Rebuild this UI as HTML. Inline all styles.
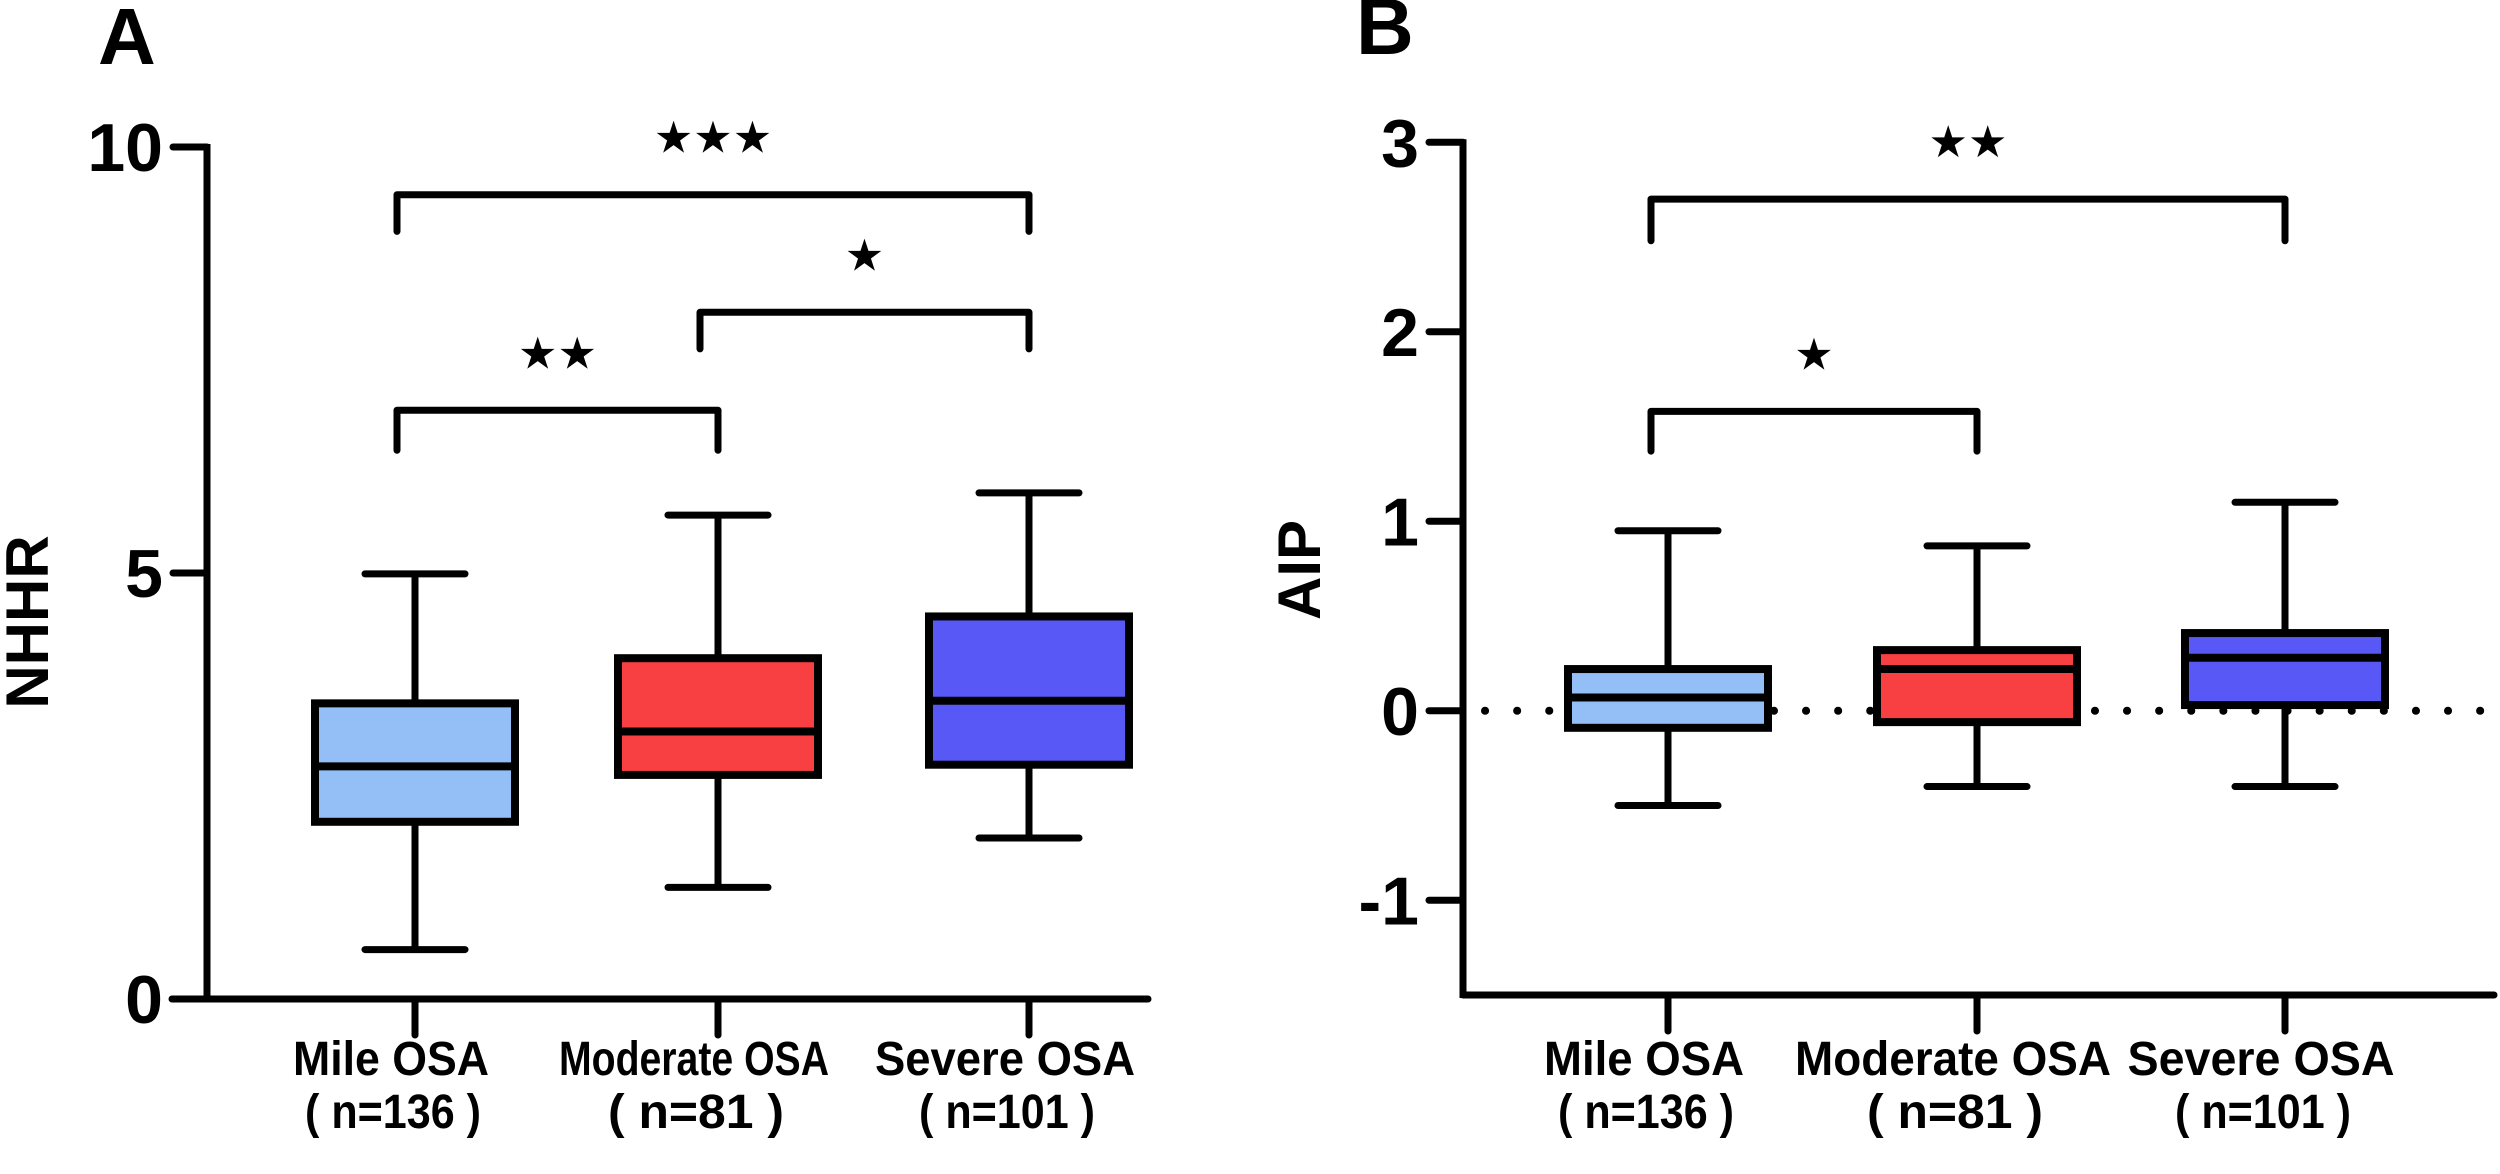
<!DOCTYPE html>
<html><head><meta charset="utf-8"><style>
html,body{margin:0;padding:0;background:#fff;}
svg{display:block;font-family:"Liberation Sans",Arial,sans-serif;font-weight:bold;}
</style></head><body>
<svg id="fig" width="2500" height="1174" viewBox="0 0 2500 1174" xmlns="http://www.w3.org/2000/svg"></svg>
<script>
const categories = ["Mile OSA","Moderate OSA","Severe OSA"];
const nLabels = ["( n=136 )","( n=81 )","( n=101 )"];
const colors = ["#94bff6","#f83f42","#5858f6"];
// Panel A (NHHR)
const nhhrMin = [0.58, 1.31, 1.89];
const nhhrQ1 = [2.08, 2.63, 2.75];
const nhhrMed = [2.73, 3.14, 3.50];
const nhhrQ3 = [3.47, 4.00, 4.49];
const nhhrMax = [4.99, 5.68, 5.94];
const nhhrTicks = [0, 5, 10];
// Panel B (AIP)
const aipMin = [-0.50, -0.40, -0.40];
const aipQ1 = [-0.09, -0.06, 0.03];
const aipMed = [0.07, 0.22, 0.28];
const aipQ3 = [0.22, 0.32, 0.41];
const aipMax = [0.95, 0.87, 1.10];
const aipTicks = [-1, 0, 1, 2, 3];
// significance brackets: [from, to, level, drop, stars]
const nhhrBrackets = [[0,2,9.44,9.01,"***"],[1,2,8.06,7.63,"*"],[0,1,6.91,6.44,"**"]];
const aipBrackets = [[0,2,2.7,2.48,"**"],[0,1,1.58,1.37,"*"]];

const NS="http://www.w3.org/2000/svg";
const svg=document.getElementById('fig');
function el(tag,attrs,parent){const e=document.createElementNS(NS,tag);for(const k in attrs)e.setAttribute(k,attrs[k]);(parent||svg).appendChild(e);return e;}
const SW=7;

function panel(cfg){
  const g=el('g',{});
  
  
  const y=v=>cfg.y0-(v-cfg.vmin)*cfg.ppu;
  const x=i=>cfg.xs[i];
  const L=el('text',{x:cfg.letterX,y:cfg.letterY,'font-size':80},g);L.textContent=cfg.letter;
  
  
  const ya=el('line',{x1:cfg.axX,y1:y(cfg.vmax)-3,x2:cfg.axX,y2:cfg.y0+3,stroke:'#000','stroke-width':SW},g);
  
  
  cfg.ticks.forEach(t=>{
    el('line',{x1:cfg.axX-34,y1:y(t),x2:cfg.axX,y2:y(t),stroke:'#000','stroke-width':SW,'stroke-linecap':'round'},g);
    const tl=el('text',{x:cfg.axX-44,y:y(t)+24,'font-size':68,'text-anchor':'end'},g);
    tl.textContent=t;
    
    
  });
  const yt=el('text',{x:0,y:0,'font-size':60,'text-anchor':'middle',transform:`translate(${cfg.titleX},${cfg.titleY}) rotate(-90)`},g);
  yt.textContent=cfg.title;
  
  
  const xa=el('line',{x1:cfg.xaStart,y1:cfg.y0,x2:cfg.xaEnd,y2:cfg.y0,stroke:'#000','stroke-width':SW,'stroke-linecap':'round'},g);
  
  
  if(cfg.zero){
    const zl=el('line',{x1:cfg.axX+22,y1:y(0),x2:2494,y2:y(0),stroke:'#000','stroke-width':8,'stroke-dasharray':'0.1 32','stroke-linecap':'round'},g);
    
    
  }
  categories.forEach((c,i)=>{
    el('line',{x1:x(i),y1:cfg.y0,x2:x(i),y2:cfg.y0+36,stroke:'#000','stroke-width':SW,'stroke-linecap':'round'},g);
    const t1=el('text',{x:x(i)-24,y:1075,'font-size':48,'text-anchor':'middle',textLength:cfg.lw[i],lengthAdjust:'spacingAndGlyphs'},g);
    t1.textContent=c;
    
    
    const t2=el('text',{x:x(i)-22,y:1128,'font-size':48,'text-anchor':'middle',textLength:176,lengthAdjust:'spacingAndGlyphs'},g);
    t2.textContent=nLabels[i];
    
    
    const bg=el('g',{},g);
    
    
    const hw=100,cw=50;
    el('line',{x1:x(i),y1:y(cfg.max[i]),x2:x(i),y2:y(cfg.q3[i]),stroke:'#000','stroke-width':SW},bg);
    el('line',{x1:x(i),y1:y(cfg.q1[i]),x2:x(i),y2:y(cfg.min[i]),stroke:'#000','stroke-width':SW},bg);
    el('line',{x1:x(i)-cw,y1:y(cfg.max[i]),x2:x(i)+cw,y2:y(cfg.max[i]),stroke:'#000','stroke-width':SW,'stroke-linecap':'round'},bg);
    el('line',{x1:x(i)-cw,y1:y(cfg.min[i]),x2:x(i)+cw,y2:y(cfg.min[i]),stroke:'#000','stroke-width':SW,'stroke-linecap':'round'},bg);
    el('rect',{x:x(i)-hw,y:y(cfg.q3[i]),width:2*hw,height:y(cfg.q1[i])-y(cfg.q3[i]),fill:colors[i],stroke:'#000','stroke-width':SW+1},bg);
    el('line',{x1:x(i)-hw,y1:y(cfg.med[i]),x2:x(i)+hw,y2:y(cfg.med[i]),stroke:'#000','stroke-width':SW+1},bg);
  });
  cfg.brackets.forEach(b=>{
    const bx=el('g',{},g);
    
    
    const a=x(b[0])+cfg.bOff,c=x(b[1])+cfg.bOff2;
    el('path',{d:`M${a},${y(b[3])} L${a},${y(b[2])} L${c},${y(b[2])} L${c},${y(b[3])}`,fill:'none',stroke:'#000','stroke-width':SW,'stroke-linecap':'round','stroke-linejoin':'round'},bx);
    const st=el('text',{x:(a+c)/2,y:y(b[2])-42,'font-size':44,'text-anchor':'middle','font-family':'"DejaVu Sans",sans-serif'},bx);
    st.textContent=b[4].replace(/\*/g,'★');
    
    
  });
}

panel({name:'panel-a-nhhr',letter:'A',letterX:98,letterY:64,title:'NHHR',titleX:48,titleY:622,
  axX:207,y0:999,vmin:0,vmax:10,ppu:85.2,ticks:nhhrTicks,xs:[415,718,1029],
  xaStart:172,xaEnd:1148,zero:false,lw:[196,270,260],
  min:nhhrMin,q1:nhhrQ1,med:nhhrMed,q3:nhhrQ3,max:nhhrMax,brackets:nhhrBrackets,bOff:-18,bOff2:0});
panel({name:'panel-b-aip',letter:'B',letterX:1356,letterY:54,title:'AIP',titleX:1320,titleY:570,
  axX:1463,y0:995,vmin:-1.5,vmax:3,ppu:189.5,ticks:aipTicks,xs:[1668,1977,2285],
  xaStart:1463,xaEnd:2494,zero:true,lw:[200,316,267],
  min:aipMin,q1:aipQ1,med:aipMed,q3:aipQ3,max:aipMax,brackets:aipBrackets,bOff:-17,bOff2:0});
</script>
</body></html>
